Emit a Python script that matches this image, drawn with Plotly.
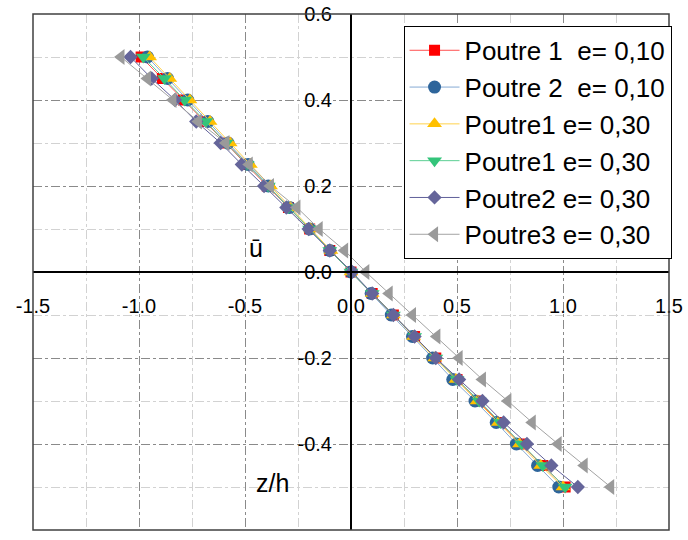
import plotly.graph_objects as go

z = [0.5, 0.45, 0.4, 0.35, 0.3, 0.25, 0.2, 0.15, 0.1, 0.05, 0.0,
     -0.05, -0.1, -0.15, -0.2, -0.25, -0.3, -0.35, -0.4, -0.45, -0.5]

poutre1_e010 = [-0.99, -0.89, -0.79, -0.69, -0.59, -0.495, -0.395, -0.295, -0.195, -0.10, 0.0,
                0.10, 0.20, 0.30, 0.40, 0.50, 0.60, 0.70, 0.80, 0.905, 1.01]
poutre2_e010 = [-0.96, -0.865, -0.77, -0.675, -0.58, -0.485, -0.39, -0.29, -0.195, -0.10, 0.0,
                0.095, 0.19, 0.29, 0.385, 0.48, 0.585, 0.685, 0.78, 0.88, 0.98]
poutre1_e030a = [-0.95, -0.855, -0.76, -0.665, -0.57, -0.475, -0.38, -0.285, -0.19, -0.095, 0.0,
                 0.10, 0.20, 0.295, 0.395, 0.495, 0.595, 0.695, 0.795, 0.895, 1.00]
poutre1_e030b = [-0.98, -0.88, -0.785, -0.685, -0.59, -0.49, -0.39, -0.295, -0.195, -0.10, 0.0,
                 0.10, 0.20, 0.30, 0.40, 0.50, 0.605, 0.705, 0.805, 0.905, 1.01]
poutre2_e030 = [-1.04, -0.94, -0.83, -0.73, -0.615, -0.515, -0.41, -0.305, -0.20, -0.10, 0.005,
                0.10, 0.20, 0.30, 0.40, 0.51, 0.62, 0.72, 0.83, 0.945, 1.07]
poutre3_e030 = [-1.085, -0.96, -0.84, -0.72, -0.59, -0.48, -0.38, -0.255, -0.15, -0.03, 0.07,
                0.18, 0.29, 0.405, 0.51, 0.62, 0.74, 0.855, 0.977, 1.10, 1.225]

x_ticks = [-1.5, -1.0, -0.5, 0.0, 0.5, 1.0, 1.5]
x_labels = ["-1.5", "-1.0", "-0.5", "0.0", "0.5", "1.0", "1.5"]
y_ticks = [-0.6, -0.4, -0.2, 0.0, 0.2, 0.4, 0.6]
y_labels = ["-0.6", "-0.4", "-0.2", "0.0", "0.2", "0.4", "0.6"]

names = ["Poutre 1  e= 0,10", "Poutre 2  e= 0,10", "Poutre1 e= 0,30",
         "Poutre1 e= 0,30", "Poutre2 e= 0,30", "Poutre3 e= 0,30"]
series = [poutre1_e010, poutre2_e010, poutre1_e030a, poutre1_e030b, poutre2_e030, poutre3_e030]
symbols = ["square", "circle", "triangle-up", "triangle-down", "diamond", "triangle-left"]
sizes = [11, 13, 13, 13, 11, 14]
mcolors = ["#FF0000", "#2E659B", "#FFC000", "#33C47A", "#65659A", "#9A9A9A"]
lcolors = ["#FF5050", "#86AAD4", "#FFD24D", "#5CCF93", "#5F5F99", "#A3A3A3"]

fig = go.Figure()
for n, s, sym, sz, mc, lc in zip(names, series, symbols, sizes, mcolors, lcolors):
    fig.add_trace(go.Scatter(
        x=s, y=z, name=n, mode="lines+markers",
        line=dict(color=lc, width=1),
        marker=dict(symbol=sym, size=sz, color=mc, line=dict(width=0)),
    ))

font = "Liberation Sans, Arial, sans-serif"
fig.update_layout(
    width=688, height=540,
    margin=dict(l=33, r=19, t=14, b=10, autoexpand=False),
    paper_bgcolor="white", plot_bgcolor="white",
    font=dict(family=font, size=20, color="black"),
    showlegend=True,
    legend=dict(x=1.004, xanchor="right", y=0.977, yanchor="top",
                bgcolor="white", bordercolor="black", borderwidth=1,
                itemwidth=50,
                font=dict(size=26, family=font), tracegroupgap=0),
    xaxis=dict(range=[-1.5, 1.5], tickvals=x_ticks, ticktext=x_labels,
               anchor="free", position=0.5, side="bottom", automargin=False,
               showline=True, linecolor="black", linewidth=2,
               zeroline=False, ticks="", ticklabelstandoff=16,
               showgrid=True, gridcolor="#8A8A8A", griddash="dashdot", gridwidth=1,
               minor=dict(dtick=0.25, showgrid=True, gridcolor="#D2D2D2", gridwidth=1)),
    yaxis=dict(range=[-0.6, 0.6], tickvals=y_ticks, ticktext=y_labels,
               anchor="free", position=0.5, side="left", automargin=False,
               showline=True, linecolor="black", linewidth=2,
               zeroline=False, ticks="", ticklabelstandoff=14,
               showgrid=True, gridcolor="#8A8A8A", griddash="dashdot", gridwidth=1,
               minor=dict(dtick=0.1, showgrid=True, gridcolor="#D2D2D2", gridwidth=1)),
    shapes=[dict(type="rect", xref="paper", yref="paper", x0=0, x1=1, y0=0, y1=1,
                 line=dict(color="#404040", width=1.5), layer="above")],
    annotations=[
        dict(text="ū", x=-0.45, y=0.055, xref="x", yref="y", showarrow=False,
             font=dict(size=25, family=font)),
        dict(text="z/h", x=-0.37, y=-0.49, xref="x", yref="y", showarrow=False,
             font=dict(size=25, family=font)),
    ],
)

fig.write_html("out.html")
